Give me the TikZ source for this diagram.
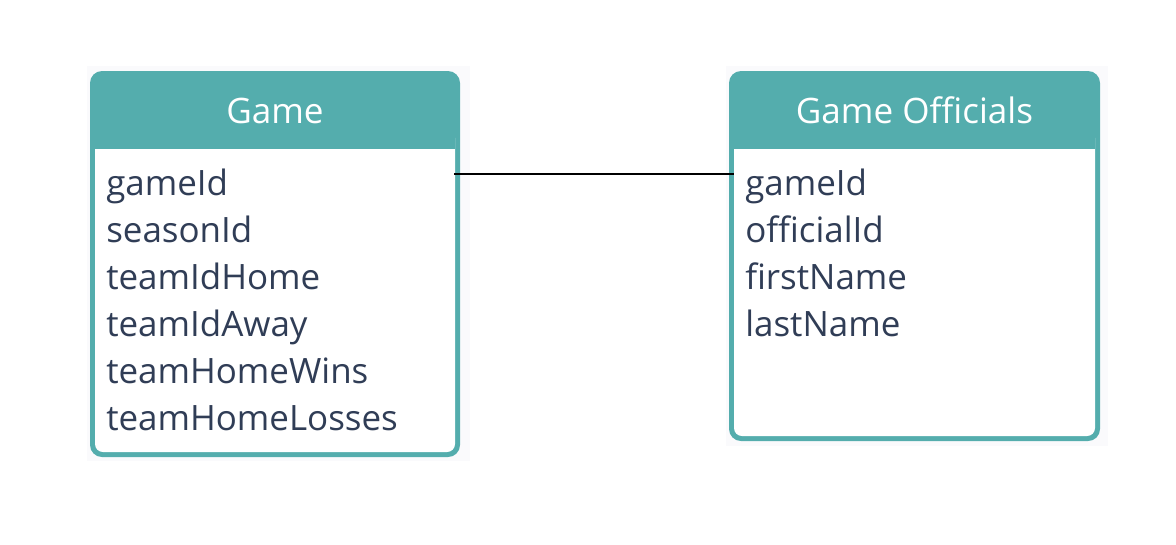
\documentclass[tikz,border=0pt]{standalone}
\usepackage{fontspec}
\setmainfont{Open Sans}
\definecolor{tealhead}{RGB}{84,173,173}
\definecolor{fieldtext}{RGB}{48,61,86}
\definecolor{bgtint}{RGB}{250,250,252}
\tikzset{
  tablebox/.style={fill=tealhead, rounded corners=9pt, inner sep=0pt, draw=none},
  tabletitle/.style={text=white, font=\fontsize{26.3}{31}\selectfont, inner sep=0pt},
  fieldrow/.style={text=fieldtext, font=\fontsize{26.2}{31}\selectfont, anchor=base west, inner sep=0pt},
  relline/.style={draw=black, line width=1pt}
}
\begin{document}
\begin{tikzpicture}[x=0.75pt,y=-0.75pt]
\useasboundingbox (0,0) rectangle (1176,544);
\fill[white] (0,0) rectangle (1176,544);
\fill[bgtint] (87,66) rectangle (470,461);
\fill[bgtint] (726,66) rectangle (1108,446);
% Game table
\node[tablebox, minimum width=277.5pt, minimum height=289.5pt] (game) at (275,264) {};
\fill[white, rounded corners=6pt] (95,130) rectangle (455,452);
\fill[tealhead] (95,129) rectangle (455,149);
\node[tabletitle] (gametitle) at (275,110.5) {Game};
\node[fieldrow] (g1) at (106,195) {gameId};
\node[fieldrow] (g2) at (106,242) {seasonId};
\node[fieldrow] (g3) at (106,289) {teamIdHome};
\node[fieldrow] (g4) at (106,336) {teamIdAway};
\node[fieldrow] (g5) at (106,383) {teamHomeWins};
\node[fieldrow] (g6) at (106,430) {teamHomeLosses};
% Game Officials table
\node[tablebox, minimum width=278.25pt, minimum height=277.5pt] (officials) at (914.5,256) {};
\fill[white, rounded corners=6pt] (734,130) rectangle (1095,436);
\fill[tealhead] (734,129) rectangle (1095,149);
\node[tabletitle] (offtitle) at (914.5,110.5) {Game Officials};
\node[fieldrow] (o1) at (745,195) {gameId};
\node[fieldrow] (o2) at (745,242) {officialId};
\node[fieldrow] (o3) at (745,289) {firstName};
\node[fieldrow] (o4) at (745,336) {lastName};
% connector
\coordinate (gl) at (454,174);
\coordinate (gr) at (734,174);
\draw[relline] (gl) -- (gr);
\end{tikzpicture}
\end{document}
